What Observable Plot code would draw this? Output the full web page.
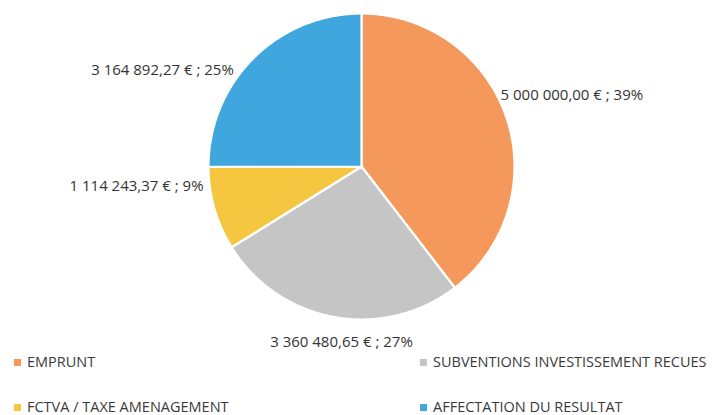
<!DOCTYPE html>
<html>
<head>
<meta charset="utf-8">
<script src="https://cdn.jsdelivr.net/npm/d3@7"></script>
<script src="https://cdn.jsdelivr.net/npm/@observablehq/plot@0.6"></script>
<style>
  html, body { margin: 0; padding: 0; background: #fff; }
  #wrap { position: relative; width: 718px; height: 415px; overflow: hidden; font-family: "Open Sans", sans-serif; }
  #legend { position: absolute; left: 0; top: 350px; width: 718px; height: 65px; }
  .item { position: absolute; display: flex; align-items: center; font-size: 14.5px; color: #3a3a3a; white-space: nowrap; line-height: 1; }
  .sw { width: 7px; height: 7px; margin-right: 6px; flex: none; }
</style>
</head>
<body>
<div id="wrap"><div id="chart"></div><div id="legend"></div></div>
<script>
// ---- data ----
const categories = ["EMPRUNT", "SUBVENTIONS INVESTISSEMENT RECUES", "FCTVA / TAXE AMENAGEMENT", "AFFECTATION DU RESULTAT"];
const amounts = [5000000.00, 3360480.65, 1114243.37, 3164892.27];
const percents = [39, 27, 9, 25];
const colors = ["#F4985C", "#C5C5C5", "#F5C640", "#3FA7DD"];

// ---- layout (label placement in polar units of the pie) ----
const labelAngles = [63, 186.5, 263, 307];      // degrees clockwise from top
const labelRadii = [1.02, 1.155, 1.04, 1.045];  // in pie radii
const labelAnchors = ["start", "middle", "end", "end"];
const legendCols = [14, 420];
const legendRows = [12, 57];

const cx = 361, cy = 166, R = 153;

const fr = d3.formatLocale({decimal: ",", thousands: " ", grouping: [3], currency: ["", ""]});
const fmt = fr.format(",.2f");

const arcs = d3.pie().sort(null).value(d => d)(amounts);

const sliceMarks = arcs.map((a, i) => {
  const pts = [{x: 0, y: 0}];
  const n = Math.max(2, Math.ceil((a.endAngle - a.startAngle) / (Math.PI / 360)));
  for (let k = 0; k <= n; k++) {
    const t = a.startAngle + (a.endAngle - a.startAngle) * k / n;
    pts.push({x: Math.sin(t), y: -Math.cos(t)});
  }
  return Plot.line(pts, {x: "x", y: "y", curve: "linear-closed", fill: colors[i], stroke: "white", strokeWidth: 2.2, strokeLinejoin: "round"});
});

const labels = amounts.map((v, i) => {
  const ang = labelAngles[i] * Math.PI / 180;
  return {
    x: labelRadii[i] * Math.sin(ang),
    y: -labelRadii[i] * Math.cos(ang),
    text: fmt(v) + " € ; " + percents[i] + "%",
    anchor: labelAnchors[i]
  };
});

const textMarks = ["start", "middle", "end"].map(an =>
  Plot.text(labels.filter(d => d.anchor === an), {x: "x", y: "y", text: "text", textAnchor: an, fill: "#333", fontSize: 15})
);

const chart = Plot.plot({
  width: 718,
  height: 350,
  margin: 0,
  style: {fontFamily: "'Open Sans', sans-serif", overflow: "visible", background: "transparent"},
  x: {type: "linear", domain: [-1, 1], range: [cx - R, cx + R], axis: null},
  y: {type: "linear", domain: [-1, 1], range: [cy - R, cy + R], axis: null},
  marks: [...sliceMarks, ...textMarks]
});
document.getElementById("chart").appendChild(chart);

const legend = document.getElementById("legend");
categories.forEach((c, i) => {
  const col = i % 2, row = Math.floor(i / 2);
  const el = document.createElement("div");
  el.className = "item";
  el.style.left = legendCols[col] + "px";
  el.style.top = (legendRows[row] - 7) + "px";
  el.style.height = "14px";
  const sw = document.createElement("span");
  sw.className = "sw";
  sw.style.background = colors[i];
  const tx = document.createElement("span");
  tx.textContent = c;
  el.appendChild(sw); el.appendChild(tx);
  legend.appendChild(el);
});
</script>
</body>
</html>
